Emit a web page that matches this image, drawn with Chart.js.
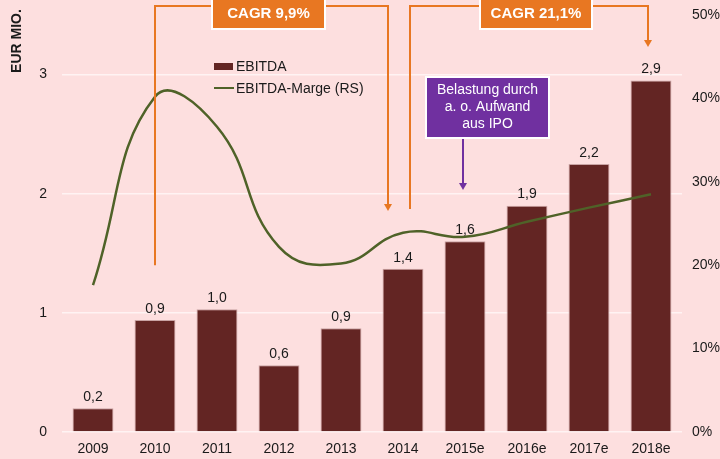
<!DOCTYPE html>
<html>
<head>
<meta charset="utf-8">
<script src="https://cdn.jsdelivr.net/npm/chart.js@4.4.1/dist/chart.umd.min.js"></script>
<style>
  html, body { margin: 0; padding: 0; background: #fddfdf; }
  #wrap { width: 720px; height: 459px; position: relative; }
</style>
</head>
<body>
<div id="wrap"><canvas id="chart"></canvas></div>
<script>
const years = ['2009', '2010', '2011', '2012', '2013', '2014', '2015e', '2016e', '2017e', '2018e'];
const ebitda = [0.2, 0.94, 1.03, 0.56, 0.87, 1.37, 1.6, 1.9, 2.25, 2.95];
const ebitdaLabels = ['0,2', '0,9', '1,0', '0,6', '0,9', '1,4', '1,6', '1,9', '2,2', '2,9'];
const margin = [0.176, 0.402, 0.366, 0.222, 0.202, 0.239, 0.234, 0.252, 0.269, 0.285];
const leftTicks = [0, 1, 2, 3];
const rightTicks = [0, 0.1, 0.2, 0.3, 0.4, 0.5];

const FONT = '"Liberation Sans", Arial, sans-serif';
const BAR = '#632523';
const LINE = '#4f6228';
const ORANGE = '#e87722';
const PURPLE = '#7030a0';

function arrowDown(ctx, x, y, color) {
  ctx.fillStyle = color;
  ctx.beginPath();
  ctx.moveTo(x - 4, y - 7);
  ctx.lineTo(x + 4, y - 7);
  ctx.lineTo(x, y);
  ctx.closePath();
  ctx.fill();
}

function labelBox(ctx, x1, x2, y1, y2, fill, lines, font) {
  ctx.fillStyle = fill;
  ctx.fillRect(x1, y1, x2 - x1, y2 - y1);
  ctx.strokeStyle = '#ffffff';
  ctx.lineWidth = 2;
  ctx.strokeRect(x1, y1, x2 - x1, y2 - y1);
  ctx.fillStyle = '#ffffff';
  ctx.font = font;
  ctx.textAlign = 'center';
  ctx.textBaseline = 'middle';
  const lh = 17;
  const cy = (y1 + y2) / 2 - (lines.length - 1) * lh / 2;
  lines.forEach((t, i) => ctx.fillText(t, (x1 + x2) / 2, cy + i * lh));
}

const extras = {
  id: 'extras',
  afterDatasetsDraw(chart) {
    const ctx = chart.ctx;
    const x = chart.scales.x;
    const y = chart.scales.y;
    const meta = chart.getDatasetMeta(1);

    ctx.save();
    // value labels above bars
    ctx.font = '14px ' + FONT;
    ctx.fillStyle = '#1a1a1a';
    ctx.textAlign = 'center';
    ctx.textBaseline = 'bottom';
    meta.data.forEach((bar, i) => {
      ctx.fillText(ebitdaLabels[i], bar.x, bar.y - 4);
    });

    // CAGR brackets
    ctx.strokeStyle = ORANGE;
    ctx.lineWidth = 2;
    const top = 6;
    const x2010 = x.getPixelForValue(1);
    const x2014 = x.getPixelForValue(5);
    const x2018 = x.getPixelForValue(9);
    ctx.beginPath();
    ctx.moveTo(x2010, y.getPixelForValue(1.4));
    ctx.lineTo(x2010, top);
    ctx.lineTo(x2014 - 15, top);
    ctx.lineTo(x2014 - 15, 204);
    ctx.stroke();
    arrowDown(ctx, x2014 - 15, 211, ORANGE);

    ctx.beginPath();
    ctx.moveTo(x2014 + 7, 209);
    ctx.lineTo(x2014 + 7, top);
    ctx.lineTo(x2018 - 3, top);
    ctx.lineTo(x2018 - 3, 40);
    ctx.stroke();
    arrowDown(ctx, x2018 - 3, 47, ORANGE);

    labelBox(ctx, 212, 325, -2, 29, ORANGE, ['CAGR 9,9%'], 'bold 15px ' + FONT);
    labelBox(ctx, 480, 592, -2, 29, ORANGE, ['CAGR 21,1%'], 'bold 15px ' + FONT);

    // IPO note
    const xIpo = x.getPixelForValue(6) - 2;
    ctx.strokeStyle = PURPLE;
    ctx.lineWidth = 2;
    ctx.beginPath();
    ctx.moveTo(xIpo, 138);
    ctx.lineTo(xIpo, 183);
    ctx.stroke();
    arrowDown(ctx, xIpo, 190, PURPLE);
    labelBox(ctx, 426, 549, 77, 138, PURPLE, ['Belastung durch', 'a. o. Aufwand', 'aus IPO'], '14px ' + FONT);

    // legend
    ctx.fillStyle = BAR;
    ctx.fillRect(214, 63, 19, 7);
    ctx.strokeStyle = LINE;
    ctx.lineWidth = 2;
    ctx.beginPath();
    ctx.moveTo(214, 88);
    ctx.lineTo(234, 88);
    ctx.stroke();
    ctx.fillStyle = '#1a1a1a';
    ctx.font = '14px ' + FONT;
    ctx.textAlign = 'left';
    ctx.textBaseline = 'middle';
    ctx.fillText('EBITDA', 236, 67);
    ctx.fillText('EBITDA-Marge (RS)', 236, 89);

    // axis title
    ctx.translate(17, 41);
    ctx.rotate(-Math.PI / 2);
    ctx.font = 'bold 14px ' + FONT;
    ctx.textAlign = 'center';
    ctx.fillText('EUR MIO.', 0, 0);
    ctx.restore();
  }
};

new Chart(document.getElementById('chart'), {
  data: {
    labels: years,
    datasets: [
      {
        type: 'line',
        label: 'EBITDA-Marge (RS)',
        data: margin,
        yAxisID: 'y1',
        borderColor: LINE,
        borderWidth: 2.5,
        pointRadius: 0,
        tension: 0.45,
        order: 0
      },
      {
        type: 'bar',
        label: 'EBITDA',
        data: ebitda,
        yAxisID: 'y',
        backgroundColor: BAR,
        borderColor: '#c9a3a3',
        borderWidth: 1,
        categoryPercentage: 1,
        barPercentage: 0.66,
        order: 1
      }
    ]
  },
  plugins: [extras],
  options: {
    responsive: true,
    maintainAspectRatio: false,
    animation: false,
    layout: { padding: { top: 15, left: 0, right: 0, bottom: 0 } },
    plugins: { legend: false, tooltip: { enabled: false } },
    scales: {
      x: {
        grid: { display: false, drawTicks: false },
        border: { display: false },
        ticks: { color: '#1a1a1a', font: { family: FONT, size: 14 }, padding: 9, maxRotation: 0 },
        afterFit: s => { s.height = 27; s.paddingLeft = 0; s.paddingRight = 0; }
      },
      y: {
        position: 'left',
        min: 0,
        max: 3.5,
        afterBuildTicks: s => { s.ticks = leftTicks.map(v => ({ value: v })); },
        grid: { color: '#fff3f3', lineWidth: 1.5, drawTicks: false },
        border: { display: false },
        ticks: { color: '#1a1a1a', font: { family: FONT, size: 14 }, padding: 15 },
        afterFit: s => { s.width = 62; s.paddingTop = 0; s.paddingBottom = 0; }
      },
      y1: {
        position: 'right',
        min: 0,
        max: 0.5,
        afterBuildTicks: s => { s.ticks = rightTicks.map(v => ({ value: v })); },
        grid: { display: false, drawTicks: false },
        border: { display: false },
        ticks: {
          color: '#1a1a1a',
          font: { family: FONT, size: 14 },
          padding: 10,
          callback: v => Math.round(v * 100) + '%'
        },
        afterFit: s => { s.width = 38; s.paddingTop = 0; s.paddingBottom = 0; }
      }
    }
  }
});
</script>
</body>
</html>
